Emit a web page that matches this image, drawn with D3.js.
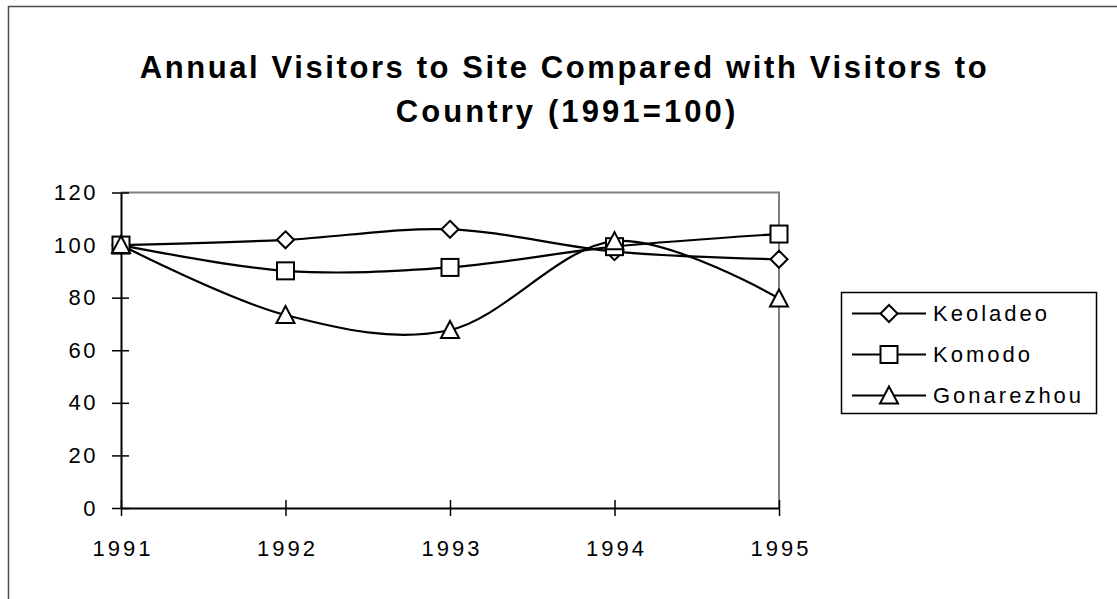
<!DOCTYPE html>
<html><head><meta charset="utf-8">
<script src="https://cdn.jsdelivr.net/npm/d3@7"></script>
<style>
html,body{margin:0;padding:0;background:#fff;}
svg{display:block;}
text{font-family:"Liberation Sans",Arial,sans-serif;fill:#000;}
</style></head>
<body>
<svg id="chart" width="1117" height="599"></svg>
<script>
const years = [1991, 1992, 1993, 1994, 1995];
const keoladeo = [100, 102, 106, 97.5, 94.6];
const komodo = [100, 90.2, 91.5, 99.4, 104.2];
const gonarezhou = [100, 73.4, 67.7, 101.5, 79.7];
const seriesNames = ["Keoladeo", "Komodo", "Gonarezhou"];
const seriesSymbols = ["diamond", "square", "triangle"];
const yTicks = [0, 20, 40, 60, 80, 100, 120];
const titleLines = ["Annual Visitors to Site Compared with Visitors to", "Country (1991=100)"];

const seriesValues = [keoladeo, komodo, gonarezhou];
const svg = d3.select("#chart");
const plot = {left: 121, top: 192.5, right: 779, bottom: 508};

// outer chart frame
svg.append("rect").attr("x", 8.5).attr("y", 6.5).attr("width", 1300).attr("height", 800)
  .attr("fill", "none").attr("stroke", "#4d4d4d").attr("stroke-width", 1.5);

// title
const titleSpacing = [2.6, 3.1];
const titleCenters = [564.5, 567];
titleLines.forEach((t, i) => {
  svg.append("text").attr("text-anchor", "middle")
    .attr("x", titleCenters[i]).attr("y", 78 + i * 44)
    .style("font-weight", "bold").style("font-size", "31px")
    .style("letter-spacing", titleSpacing[i] + "px").text(t);
});

const x = d3.scalePoint().domain(years).range([plot.left, plot.right]);
const y = d3.scaleLinear().domain([0, 120]).range([plot.bottom, plot.top]);

// plot area border (top/right gray)
svg.append("path")
  .attr("d", `M${plot.left},${plot.top}H${plot.right}V${plot.bottom}`)
  .attr("fill", "none").attr("stroke", "#808080").attr("stroke-width", 2);

// y axis
const yAxis = svg.append("g").attr("transform", `translate(${plot.left},0)`)
  .call(d3.axisLeft(y).tickValues(yTicks).tickSize(9).tickSizeOuter(0).tickPadding(14));
yAxis.select(".domain").attr("stroke", "#000").attr("stroke-width", 2);
yAxis.selectAll(".tick line").attr("stroke", "#000").attr("stroke-width", 1.5).attr("x2", -9).attr("x1", 8);
yAxis.selectAll(".tick text").style("font-size", "22px").style("letter-spacing", "2.5px")
  .style("font-family", '"Liberation Sans",Arial,sans-serif').attr("fill", "#000");

// x axis
const xAxis = svg.append("g").attr("transform", `translate(0,${plot.bottom})`)
  .call(d3.axisBottom(x).tickSize(8).tickSizeOuter(0).tickPadding(24));
xAxis.select(".domain").attr("stroke", "#000").attr("stroke-width", 2);
xAxis.selectAll(".tick line").attr("stroke", "#000").attr("stroke-width", 1.5).attr("y1", -8).attr("y2", 8);
xAxis.selectAll(".tick text").style("font-size", "22px").style("letter-spacing", "3px")
  .style("font-family", '"Liberation Sans",Arial,sans-serif').attr("fill", "#000")
  .attr("dx", "1.5px");

// lines
const line = d3.line().x((d, i) => x(years[i])).y(d => y(d)).curve(d3.curveCardinal.tension(0));
seriesValues.forEach(vals => {
  svg.append("path").datum(vals).attr("d", line)
    .attr("fill", "none").attr("stroke", "#000").attr("stroke-width", 2.2);
});

function marker(g, type) {
  if (type === "diamond") {
    g.append("path").attr("d", "M0,-8.5L8.5,0L0,8.5L-8.5,0Z");
  } else if (type === "square") {
    g.append("rect").attr("x", -8.5).attr("y", -8.5).attr("width", 17).attr("height", 17);
  } else {
    g.append("path").attr("d", "M0,-9L9,8L-9,8Z");
  }
  g.selectAll("*").attr("fill", "#fff").attr("stroke", "#000").attr("stroke-width", 2);
}

seriesValues.forEach((vals, si) => {
  vals.forEach((v, i) => {
    const g = svg.append("g").attr("transform", `translate(${x(years[i])},${y(v)})`);
    marker(g, seriesSymbols[si]);
  });
});

// legend
const legend = svg.append("g");
legend.append("rect").attr("x", 841.5).attr("y", 292.5).attr("width", 255).attr("height", 121)
  .attr("fill", "#fff").attr("stroke", "#000").attr("stroke-width", 1.5);
seriesNames.forEach((name, i) => {
  const cy = 313.5 + i * 41;
  legend.append("line").attr("x1", 852).attr("x2", 926).attr("y1", cy).attr("y2", cy)
    .attr("stroke", "#000").attr("stroke-width", 2.2);
  const g = legend.append("g").attr("transform", `translate(889,${cy})`);
  marker(g, seriesSymbols[i]);
  legend.append("text").attr("x", 933).attr("y", cy).attr("dy", "0.36em")
    .style("font-size", "22px").style("letter-spacing", "3px").text(name);
});
</script>
</body></html>
